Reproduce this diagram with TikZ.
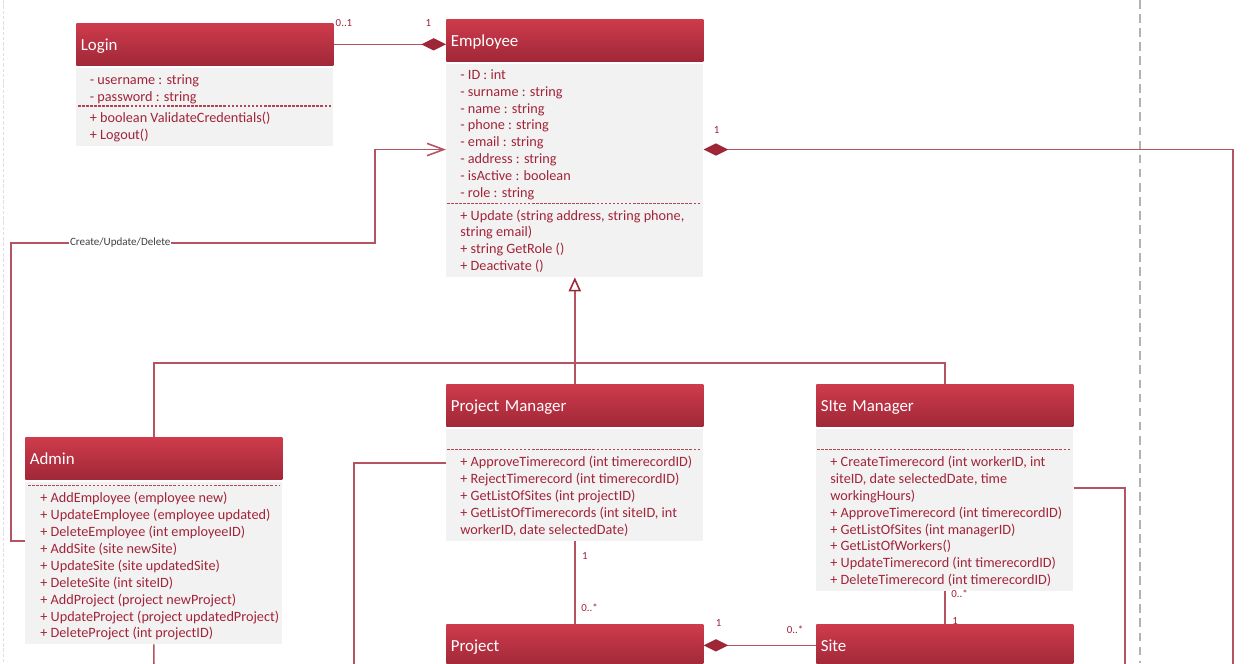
\documentclass[tikz,border=0pt]{standalone}
\usepackage{fontspec}
\setmainfont{Carlito}
\usepackage{tikz}
\usetikzlibrary{arrows.meta, positioning}

\definecolor{headtop}{RGB}{206,59,76}
\definecolor{headbot}{RGB}{160,40,56}
\definecolor{bodygray}{RGB}{242,242,242}
\definecolor{umltext}{RGB}{162,36,56}
\definecolor{umlline}{RGB}{180,84,99}
\definecolor{diam}{RGB}{158,38,54}

\newcommand{\lstrut}{\rule{0pt}{7pt}}

\begin{document}
\begin{tikzpicture}[
    x=0.02cm, y=-0.02cm,
    classhead/.style={
        rectangle, anchor=north west,
        top color=headtop, bottom color=headbot,
        minimum width=5.14cm, minimum height=0.84cm,
        text width=4.96cm, align=left, inner xsep=0.09cm,
        text height=8pt, text depth=1pt,
        text=white, font=\fontsize{9.6}{11}\selectfont
    },
    classbody/.style={
        rectangle, fill=bodygray,
        minimum width=5.14cm, inner sep=0pt
    },
    members/.style={
        anchor=north west, inner sep=0pt, align=left,
        text=umltext, font=\fontsize{8.1}{9.64}\selectfont,
        execute at begin node=\lstrut
    },
    sep/.style={umltext!85, line width=0.6pt, dash pattern=on 1.5pt off 0.8pt},
    assoc/.style={umlline, line width=0.9pt},
    comp/.tip={Diamond[length=14pt, width=7pt, color=diam]},
    mult/.style={text=umltext, font=\fontsize{6.2}{7}\selectfont, inner sep=0pt},
    cudlabel/.style={fill=white, text=black!75, inner sep=0.6pt,
        font=\fontsize{6.3}{7}\selectfont}
]
\useasboundingbox (0,0) rectangle (1250,663);
\clip (0,0) rectangle (1250,663);

% page edges
\draw [gray!25, line width=0.5pt, dash pattern=on 2pt off 1pt] (3,0) -- (3,663);

% Login
\node [classhead] (loginhead) at (76,23) {Login};
\node [classbody, minimum height=1.56cm, below=0.04cm of loginhead.south west, anchor=north west] (loginbody) {};
\node [members] (loginattr) at (89.5,74) {- username : string\\- password : string};
\draw [sep] (78,106) -- (331,106);
\node [members] (loginops) at (89.5,112) {+ boolean ValidateCredentials()\\+ Logout()};

% Employee
\node [classhead] (emphead) at (446,19) {Employee};
\node [classbody, minimum height=4.26cm, below=0.04cm of emphead.south west, anchor=north west] (empbody) {};
\node [members] (empattr) at (460,69) {- ID : int\\- surname : string\\- name : string\\- phone : string\\- email : string\\- address : string\\- isActive : boolean\\- role : string};
\draw [sep] (447,203.3) -- (700,203.3);
\node [members] (empops) at (460,209.3) {+ Update (string address, string phone,\\string email)\\+ string GetRole ()\\+ Deactivate ()};

% Admin
\node [classhead] (adminhead) at (25,437) {Admin};
\node [classbody, minimum height=3.24cm, below=0.04cm of adminhead.south west, anchor=north west] (adminbody) {};
\draw [sep] (28,485.7) -- (280,485.7);
\node [members] (adminops) at (40,491.7) {+ AddEmployee (employee new)\\+ UpdateEmployee (employee updated)\\+ DeleteEmployee (int employeeID)\\+ AddSite (site newSite)\\+ UpdateSite (site updatedSite)\\+ DeleteSite (int siteID)\\+ AddProject (project newProject)\\+ UpdateProject (project updatedProject)\\+ DeleteProject (int projectID)};

% Project Manager
\node [classhead] (pmhead) at (446,384) {Project Manager};
\node [classbody, minimum height=2.24cm, below=0.04cm of pmhead.south west, anchor=north west] (pmbody) {};
\draw [sep] (447,449.7) -- (700,449.7);
\node [members] (pmops) at (460,455.5) {+ ApproveTimerecord (int timerecordID)\\+ RejectTimerecord (int timerecordID)\\+ GetListOfSites (int projectID)\\+ GetListOfTimerecords (int siteID, int\\workerID, date selectedDate)};

% Site Manager
\node [classhead] (smhead) at (816,384) {SIte Manager};
\node [classbody, minimum height=3.24cm, below=0.04cm of smhead.south west, anchor=north west] (smbody) {};
\draw [sep] (817,449.7) -- (1070,449.7);
\node [members] (smops) at (830,455.5) {+ CreateTimerecord (int workerID, int\\siteID, date selectedDate, time\\workingHours)\\+ ApproveTimerecord (int timerecordID)\\+ GetListOfSites (int managerID)\\+ GetListOfWorkers()\\+ UpdateTimerecord (int timerecordID)\\+ DeleteTimerecord (int timerecordID)};

% Project and Site
\node [classhead] (projhead) at (446,624) {Project};
\node [classhead] (sitehead) at (816,624) {Site};

% loose ends below the page
\coordinate (genbar) at (574,363);
\coordinate (rightbot) at (1233,670);
\coordinate (pmbot) at (354,670);
\coordinate (adminbot) at (154,670);
\coordinate (smbot) at (1125,670);

% Login to Employee
\draw [assoc, -comp] (loginhead.east) -- (loginhead.east -| emphead.west);
\node [mult] (m-login) at (344,23) {0..1};
\node [mult] (m-emp) at (428.5,23) {1};

% Admin to Employee
\draw [assoc, -{Straight Barb[length=9.5pt, width=7pt]}] ([yshift=0.44cm]adminbody.west) -| (11,243)
    -- node[cudlabel, pos=0.3] (cud) {Create/Update/Delete} (375,243) |- ([yshift=0.42cm]empbody.west);

% Employee right side
\draw [assoc, comp-] ([yshift=0.42cm]empbody.east) -| (rightbot);
\node [mult] (m-right) at (716.5,129.5) {1};

% Generalization
\draw [assoc, -{Triangle[open, length=8pt, width=7pt, color=diam]}] (pmhead.north) -- (empbody.south);
\draw [assoc] (adminhead.north) |- (genbar) -| (smhead.north);

% Project Manager to Project
\draw [assoc] (pmbody.south) -- (projhead.north);
\node [mult] (m-pm1) at (585,555.7) {1};
\node [mult] (m-pm2) at (589.5,607.7) {0..*};

% Project to Site
\draw [assoc, comp-] (projhead.east) -- (sitehead.west);
\node [mult] (m-proj) at (718.5,622.7) {1};
\node [mult] (m-site) at (795,629.3) {0..*};

% Site Manager to Site
\draw [assoc] (smbody.south) -- (sitehead.north);
\node [mult, fill=white, inner sep=0.5pt] (m-sm) at (959.5,593.3) {0..*};
\node [mult] (m-site2) at (955,620.7) {1};

% lines leaving the page
\draw [assoc] ([yshift=0.44cm]pmbody.west) -| (pmbot);
\draw [assoc] (adminbody.south) -- (adminbot);
\draw [assoc] ([yshift=0.44cm]smbody.east) -| (smbot);

% page break
\draw [gray!60, line width=0.6pt, dash pattern=on 5pt off 3pt] (1140,0) -- (1140,663);

\end{tikzpicture}
\end{document}
